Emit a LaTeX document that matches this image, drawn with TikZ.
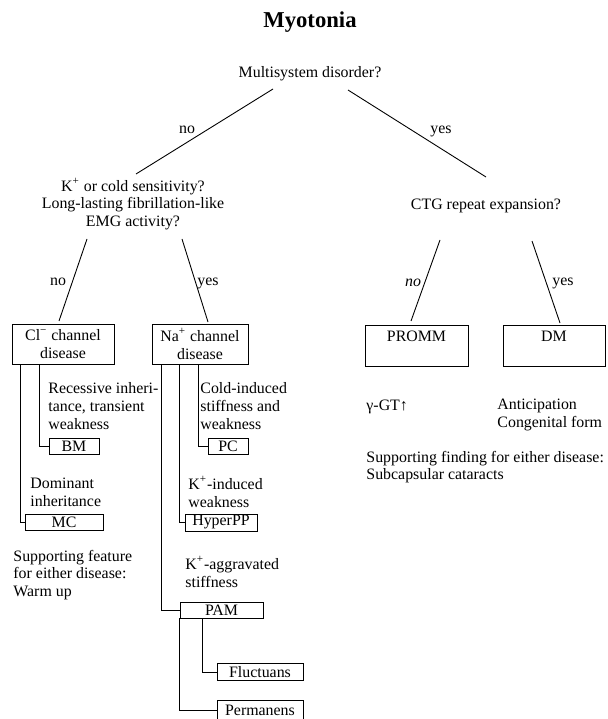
\documentclass[tikz,border=0pt]{standalone}
\usepackage{fontspec}
\setmainfont{Liberation Serif}
\usetikzlibrary{calc}

\begin{document}
\begin{tikzpicture}[x=0.56pt,y=-0.56pt,font=\fontsize{8.9}{9.9}\selectfont,line width=0.5pt,
  box/.style={draw,inner sep=0pt},
  note/.style={anchor=west,align=left,inner sep=0pt}]
\useasboundingbox (0,0) rectangle (607,719);
\node[font=\fontsize{12.7}{15}\selectfont\bfseries] (title) at (310,22) {Myotonia};
\node (multi) at (310,74) {Multisystem disorder?};
\node[align=center] (kq) at (133,204) {K\textsuperscript{+} or cold sensitivity?\\Long-lasting fibrillation-like\\EMG activity?};
\node (ctg) at (486,206) {CTG repeat expansion?};
\node[box,align=center,minimum width=57.1pt,minimum height=22.4pt] (cl) at (63,344) {Cl\textsuperscript{−} channel\\disease};
\node[box,align=center,minimum width=53.8pt,minimum height=22.4pt] (na) at (200,344) {Na\textsuperscript{+} channel\\disease};
\node[box,align=center,minimum width=57.7pt,minimum height=23pt] (promm) at (416.5,345.5) {PROMM\\\mbox{}};
\node[box,align=center,minimum width=57.1pt,minimum height=23pt] (dm) at (554,345.5) {DM\\\mbox{}};
\node[box,minimum width=28pt,minimum height=9pt] (bm) at (74,446) {BM};
\node[box,minimum width=22.4pt,minimum height=9pt] (pc) at (228,446) {PC};
\node[box,minimum width=43.7pt,minimum height=9pt] (mc) at (64,522) {MC};
\node[box,minimum width=40.3pt,minimum height=9.5pt] (hyperpp) at (221,522.5) {HyperPP};
\node[box,minimum width=46.5pt,minimum height=9pt] (pam) at (221.5,610) {PAM};
\node[box,minimum width=48.2pt,minimum height=10pt] (fluct) at (260,672) {Fluctuans};
\node[box,minimum width=48.2pt,minimum height=11pt] (perm) at (260,710) {Permanens};
\node[note] (recess) at (48,406) {Recessive inheri-\\tance, transient\\weakness};
\node[note] (cold) at (200,406) {Cold-induced\\stiffness and\\weakness};
\node[note] (domin) at (30,492) {Dominant\\inheritance};
\node[note] (kind) at (188,492) {K\textsuperscript{+}-induced\\weakness};
\node[note] (kaggr) at (185,572) {K\textsuperscript{+}-aggravated\\stiffness};
\node[note] (warm) at (13,575) {Supporting feature\\for either disease:\\Warm up};
\node[note] (ggt) at (366,407) {γ-GT↑};
\node[note] (antic) at (497,415) {Anticipation\\Congenital form};
\node[note] (catar) at (366,467) {Supporting finding for either disease:\\Subcapsular cataracts};
\draw ($(multi)+(-37,15)$) -- ($(kq)+(3,-30)$);
\draw ($(multi)+(38,16)$) -- ($(ctg)+(0,-29)$);
\node (no1) at (187,130) {no};
\node (yes1) at (441,131) {yes};
\draw ($(kq)+(-46,35)$) -- ($(cl)+(-4,-23)$);
\draw ($(kq)+(49,35)$) -- ($(na)+(8,-22)$);
\node (no2) at (58,282) {no};
\node (yes2) at (208,283) {yes};
\draw ($(ctg)+(-46,34)$) -- ($(promm)+(-5.5,-24.5)$);
\draw ($(ctg)+(46,35)$) -- ($(dm)+(6,-22.5)$);
\node[font=\fontsize{8.9}{9.9}\selectfont\itshape] (no3) at (413,283) {no};
\node (yes3) at (563,283) {yes};
\draw ($(cl.south west)+(9,0)$) |- (mc.west);
\draw ($(cl.south west)+(28,0)$) |- (bm.west);
\draw ($(na.south west)+(10,0)$) |- (pam.west);
\draw ($(na.south west)+(28,0)$) |- (hyperpp.west);
\draw ($(na.south west)+(47,0)$) |- (pc.west);
\draw (pam.south west) |- (perm.west);
\draw ($(pam.south west)+(23,0)$) |- (fluct.west);
\end{tikzpicture}
\end{document}
